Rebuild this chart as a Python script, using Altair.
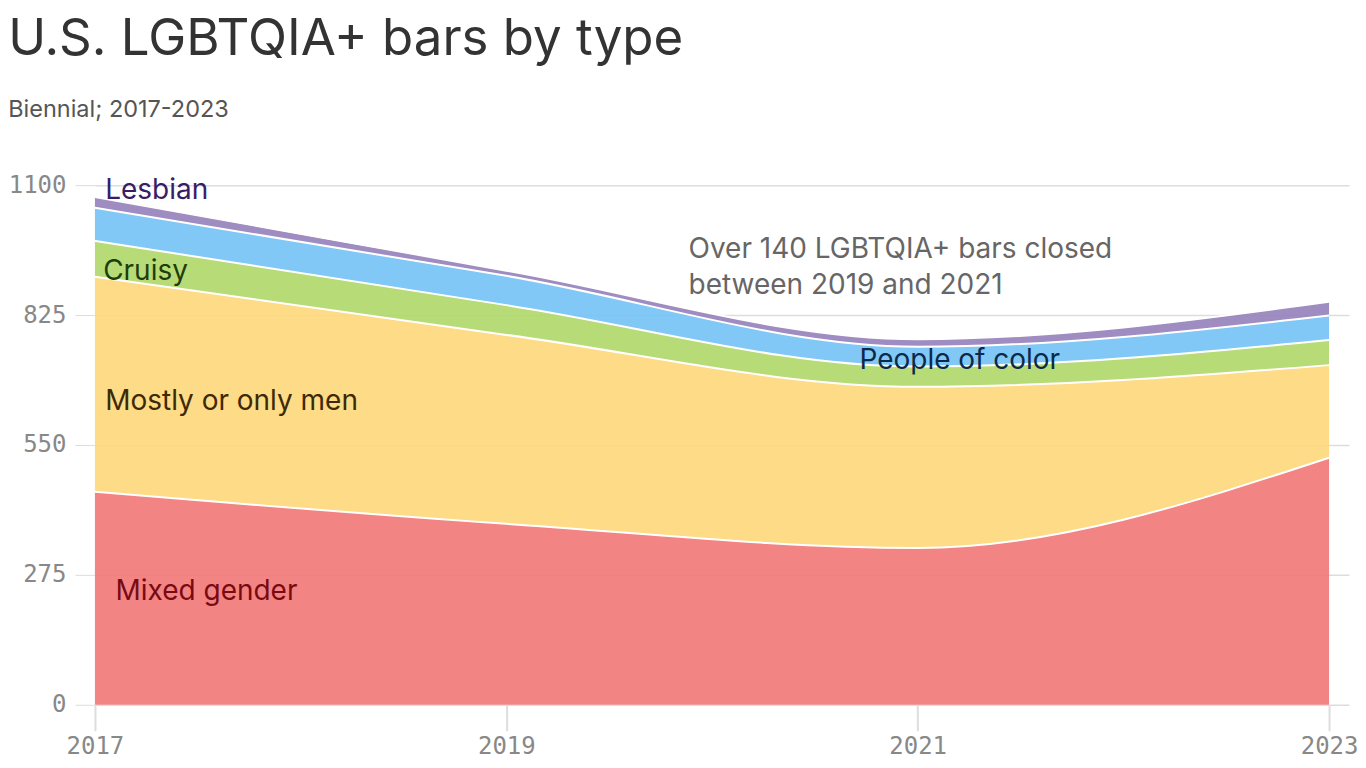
import altair as alt
import pandas as pd

# ---- data ----
years = [2017, 2019, 2021, 2023]
types = ["Mixed gender", "Mostly or only men", "Cruisy", "People of color", "Lesbian"]
mixed_gender = [451, 383, 332, 523]
mostly_men = [455, 400, 341, 196]
cruisy = [76, 63, 43, 53]
people_of_color = [70, 62, 42, 52]
lesbian = [23, 11, 16, 29]
series = [mixed_gender, mostly_men, cruisy, people_of_color, lesbian]

colors = ["#F27777", "#FDD77A", "#AFD868", "#74C2F5", "#957FB9"]
label_colors = ["#7A0A12", "#3D2A04", "#1E3D0A", "#0B2A4A", "#3A1C66"]
y_ticks = [0, 275, 550, 825, 1100]
x_ticks = [2017, 2019, 2021, 2023]

# label anchors (data units)
label_text = ["Mixed gender", "Mostly or only men", "Cruisy", "People of color", "Lesbian"]
label_year = [2017.1, 2017.05, 2017.04, 2020.717, 2017.05]
label_value = [239, 641, 916, 728, 1087]

note_lines = ["Over 140 LGBTQIA+ bars closed", "between 2019 and 2021"]
note_year = [2019.886, 2019.886]
note_value = [962, 886]

rows = []
for i, (t, vals) in enumerate(zip(types, series)):
    for yr, v in zip(years, vals):
        rows.append({"year": yr, "type": t, "ord": i, "value": v})
df = pd.DataFrame(rows)

labels_df = pd.DataFrame({"text": label_text, "year": label_year,
                          "value": label_value, "color": label_colors})
notes_df = pd.DataFrame({"text": note_lines, "year": note_year, "value": note_value})

MONO = "DejaVu Sans Mono"
SANS = "Inter"
LAB = "Inter"

x_scale = alt.Scale(domain=[2017, 2023.097], nice=False, zero=False)
y_scale = alt.Scale(domain=[0, 1100], nice=False)

x_axis = alt.Axis(values=x_ticks, format="d", title=None, grid=False, domain=False,
                  tickSize=26, tickColor="#dddddd", tickWidth=2, labelFont=MONO,
                  labelFontSize=24, labelColor="#888888", labelPadding=4,
                  labelFlush=False)
y_axis = alt.Axis(values=y_ticks, format="d", title=None, domain=False, tickSize=20,
                  tickColor="#dddddd", gridColor="#dddddd", gridWidth=1.5,
                  labelFont=MONO, labelFontSize=24, labelColor="#888888",
                  labelPadding=9, labelFlush=False)

base = alt.Chart(df).transform_stack(
    stack="value", groupby=["year"], as_=["y0", "y1"],
    sort=[alt.SortField("ord", order="ascending")]
)

areas = base.mark_area(interpolate="monotone", opacity=0.9).encode(
    x=alt.X("year:Q", scale=x_scale, axis=x_axis),
    y=alt.Y("y1:Q", scale=y_scale, axis=y_axis),
    y2="y0:Q",
    color=alt.Color("type:N", scale=alt.Scale(domain=types, range=colors), legend=None),
)

lines = base.mark_line(interpolate="monotone", color="white", strokeWidth=2).encode(
    x=alt.X("year:Q", scale=x_scale),
    y=alt.Y("y1:Q", scale=y_scale),
    detail="type:N",
)

labels = alt.Chart(labels_df).mark_text(
    align="left", baseline="middle", font=LAB, fontSize=28
).encode(
    x=alt.X("year:Q", scale=x_scale),
    y=alt.Y("value:Q", scale=y_scale),
    text="text:N",
    color=alt.Color("color:N", scale=None),
)

notes = alt.Chart(notes_df).mark_text(
    align="left", baseline="middle", font=LAB, fontSize=28, color="#666666"
).encode(
    x=alt.X("year:Q", scale=x_scale),
    y=alt.Y("value:Q", scale=y_scale),
    text="text:N",
)

chart = alt.layer(areas, lines, labels, notes).properties(
    width=1255,
    height=520,
    padding={"left": 0, "top": 5, "right": 0, "bottom": 0},
    title=alt.TitleParams(
        "U.S. LGBTQIA+ bars by type",
        subtitle="Biennial; 2017-2023",
        anchor="start",
        font=SANS,
        fontSize=51,
        fontWeight="normal",
        color="#333333",
        subtitleFont=SANS,
        subtitleFontSize=23.5,
        subtitleColor="#555555",
        subtitlePadding=32,
        offset=51,
    ),
).configure_view(strokeWidth=0)

chart.save("out.html", embed_options={"renderer": "svg", "actions": False})
